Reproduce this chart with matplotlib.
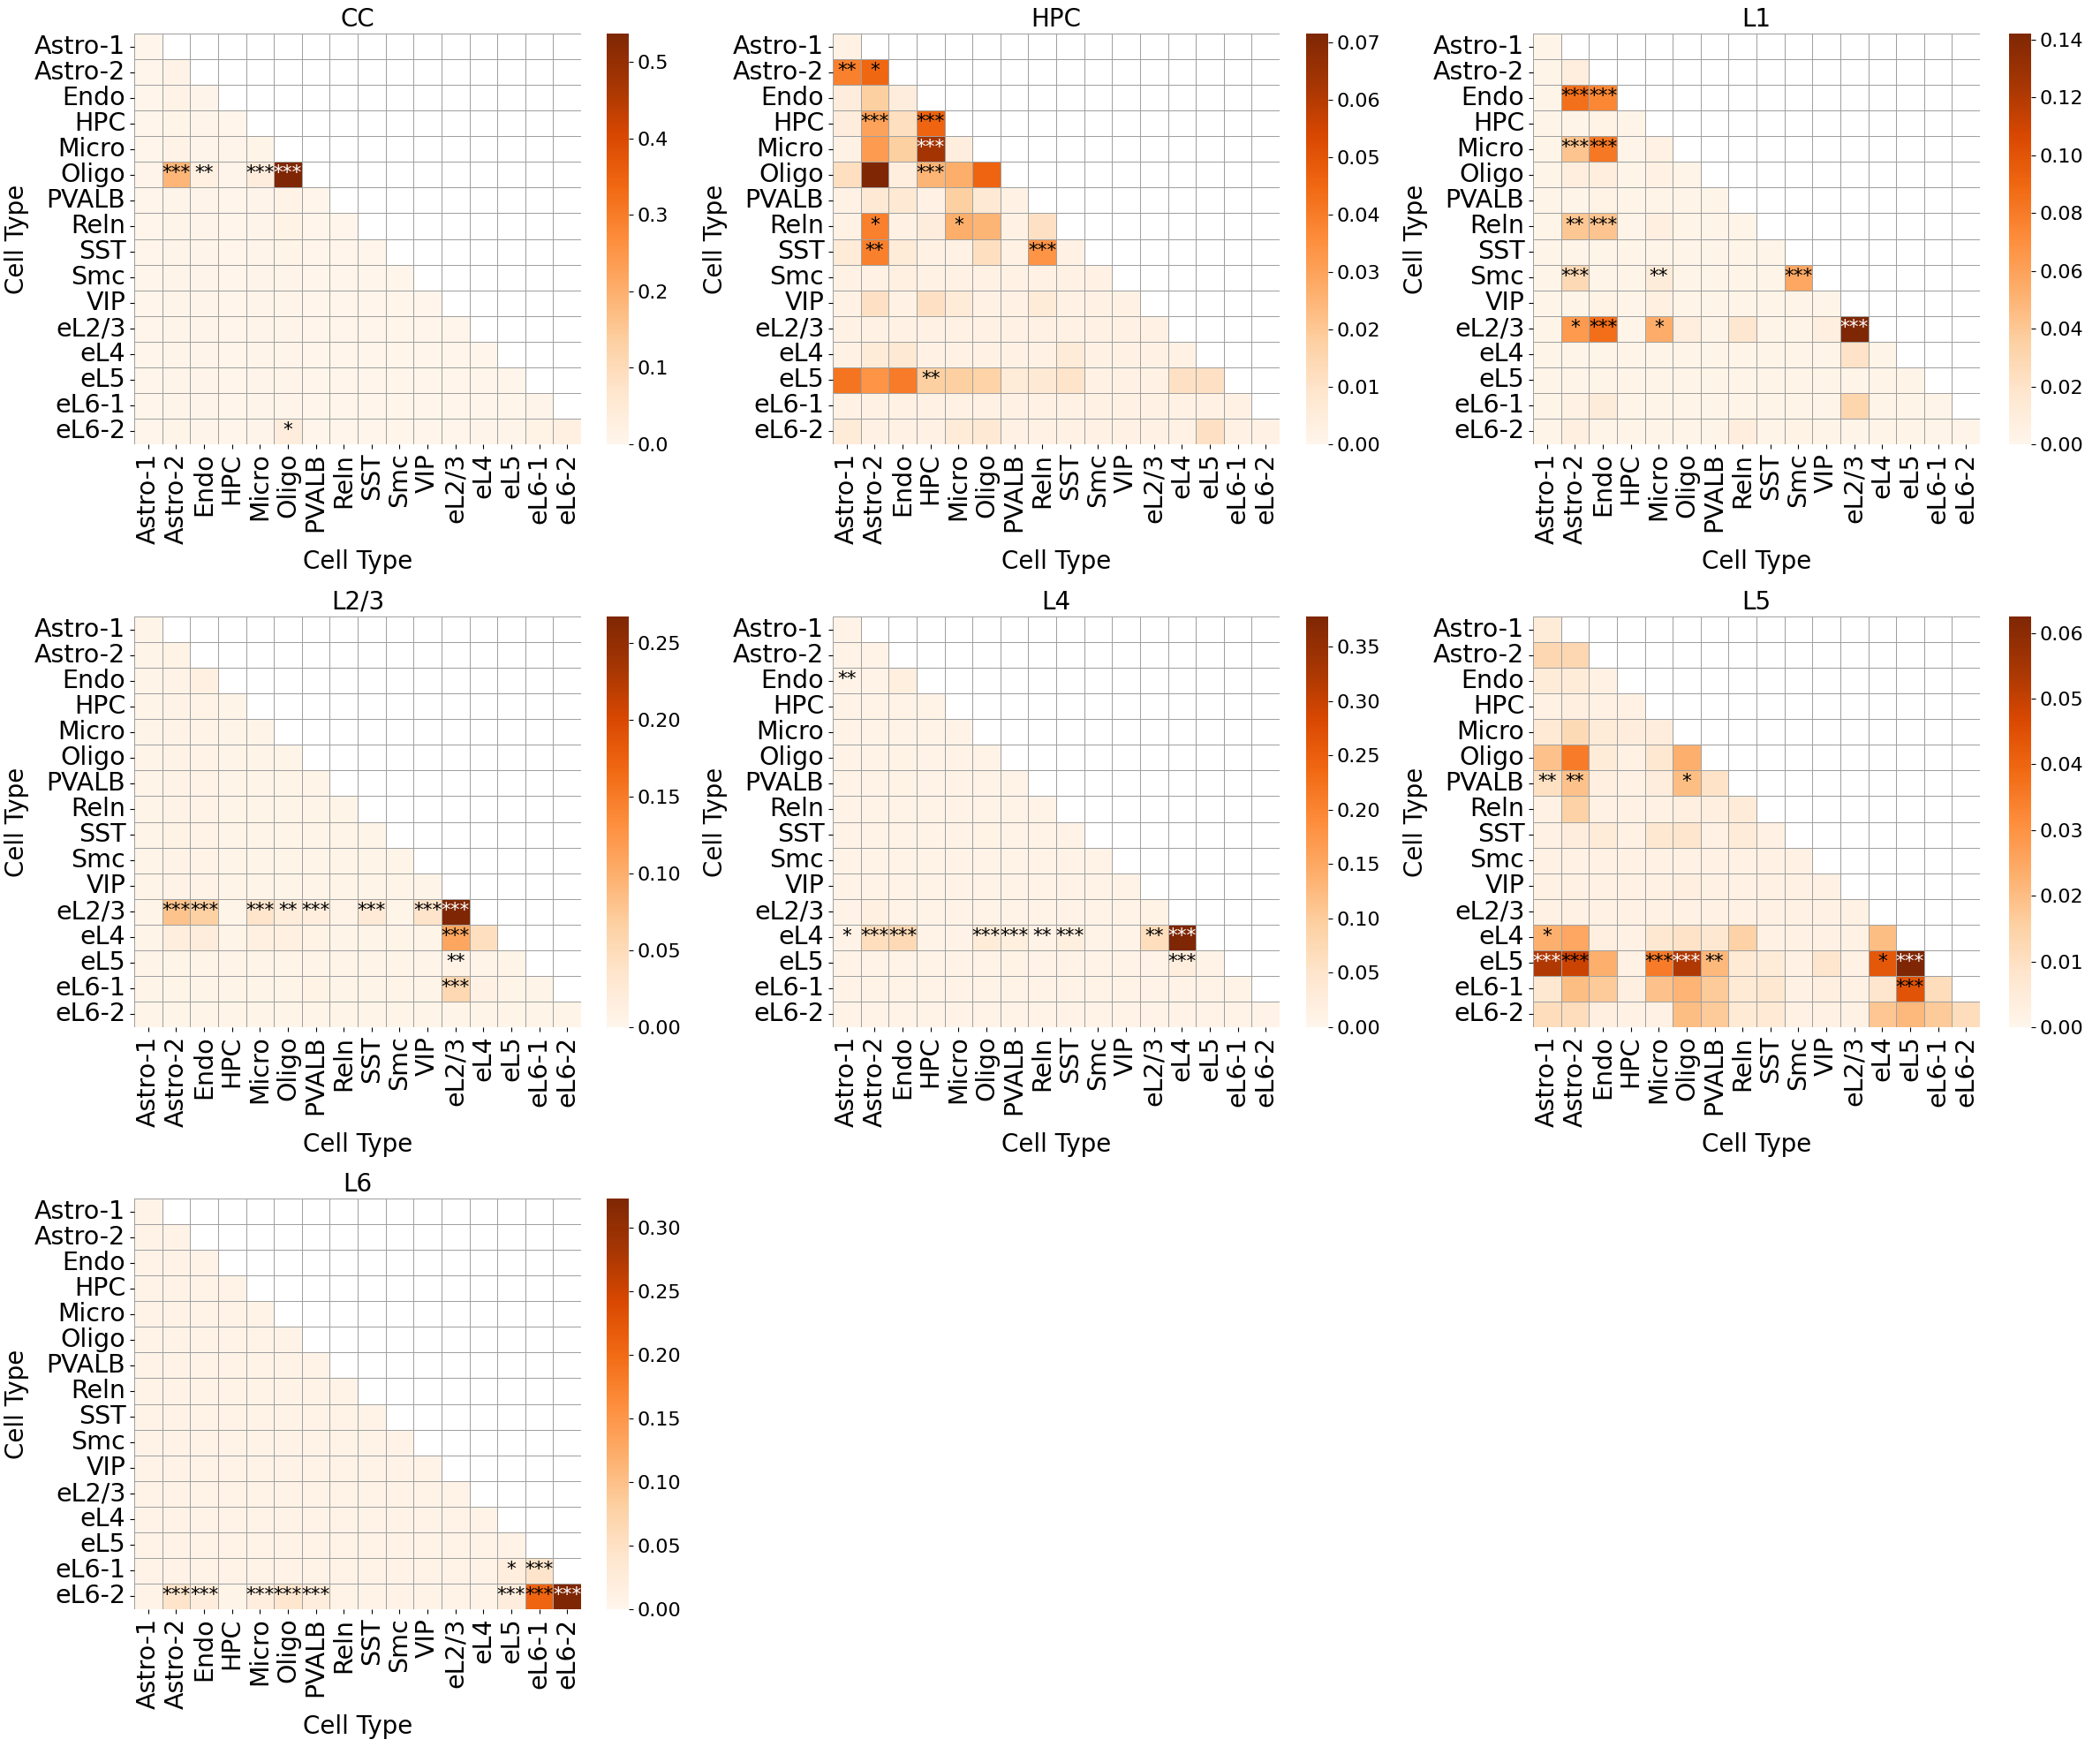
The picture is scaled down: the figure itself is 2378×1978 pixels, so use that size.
import numpy as np
import matplotlib
matplotlib.use('Agg')
import matplotlib.pyplot as plt
import seaborn as sns

cell_types = ['Astro-1', 'Astro-2', 'Endo', 'HPC', 'Micro', 'Oligo', 'PVALB', 'Reln',
              'SST', 'Smc', 'VIP', 'eL2/3', 'eL4', 'eL5', 'eL6-1', 'eL6-2']
regions = ['CC', 'HPC', 'L1', 'L2/3', 'L4', 'L5', 'L6']

# lower triangle of each matrix, row by row
cc_vals = [
    [0.004],
    [0.004, 0.010],
    [0.004, 0.010, 0.006],
    [0.004, 0.008, 0.006, 0.004],
    [0.004, 0.010, 0.006, 0.005, 0.008],
    [0.006, 0.185, 0.025, 0.005, 0.035, 0.537],
    [0.004, 0.006, 0.005, 0.004, 0.005, 0.010, 0.004],
    [0.004, 0.006, 0.005, 0.004, 0.005, 0.012, 0.004, 0.004],
    [0.004, 0.006, 0.005, 0.004, 0.005, 0.008, 0.004, 0.004, 0.004],
    [0.004, 0.005, 0.005, 0.004, 0.005, 0.006, 0.004, 0.004, 0.004, 0.004],
    [0.004, 0.005, 0.005, 0.004, 0.005, 0.006, 0.004, 0.004, 0.004, 0.004, 0.004],
    [0.004, 0.005, 0.005, 0.004, 0.005, 0.006, 0.004, 0.004, 0.004, 0.004, 0.004, 0.004],
    [0.004, 0.005, 0.005, 0.004, 0.005, 0.006, 0.004, 0.004, 0.004, 0.004, 0.004, 0.004, 0.004],
    [0.004, 0.005, 0.005, 0.004, 0.005, 0.006, 0.004, 0.004, 0.004, 0.004, 0.004, 0.004, 0.004, 0.004],
    [0.004, 0.005, 0.005, 0.004, 0.005, 0.006, 0.004, 0.004, 0.004, 0.004, 0.004, 0.004, 0.004, 0.004, 0.006],
    [0.004, 0.008, 0.006, 0.004, 0.006, 0.035, 0.004, 0.004, 0.004, 0.004, 0.004, 0.004, 0.005, 0.005, 0.012, 0.022],
]
cc_stars = {(5, 1): '***', (5, 2): '**', (5, 4): '***', (5, 5): '***', (15, 5): '*'}

hpc_vals = [
    [0.002],
    [0.039, 0.045],
    [0.005, 0.018, 0.005],
    [0.005, 0.030, 0.012, 0.046],
    [0.002, 0.032, 0.018, 0.063, 0.004],
    [0.012, 0.0715, 0.004, 0.025, 0.027, 0.046],
    [0.002, 0.007, 0.007, 0.002, 0.018, 0.007, 0.002],
    [0.002, 0.039, 0.002, 0.005, 0.027, 0.025, 0.002, 0.011],
    [0.006, 0.039, 0.006, 0.002, 0.002, 0.012, 0.002, 0.034, 0.002],
    [0.002, 0.002, 0.003, 0.002, 0.002, 0.002, 0.002, 0.002, 0.002, 0.002],
    [0.002, 0.011, 0.002, 0.011, 0.006, 0.002, 0.002, 0.006, 0.002, 0.002, 0.002],
    [0.002, 0.002, 0.002, 0.002, 0.002, 0.002, 0.002, 0.002, 0.002, 0.002, 0.002, 0.002],
    [0.002, 0.006, 0.007, 0.002, 0.002, 0.002, 0.002, 0.002, 0.006, 0.002, 0.002, 0.002, 0.002],
    [0.042, 0.034, 0.040, 0.018, 0.018, 0.017, 0.006, 0.007, 0.010, 0.002, 0.002, 0.002, 0.011, 0.011],
    [0.002, 0.002, 0.002, 0.002, 0.002, 0.002, 0.002, 0.002, 0.002, 0.002, 0.002, 0.002, 0.002, 0.002, 0.002],
    [0.006, 0.002, 0.002, 0.002, 0.006, 0.007, 0.002, 0.002, 0.002, 0.002, 0.002, 0.002, 0.002, 0.011, 0.002, 0.002],
]
hpc_stars = {(1, 0): '**', (1, 1): '*', (3, 1): '***', (3, 3): '***', (4, 3): '***',
             (5, 3): '***', (7, 1): '*', (7, 4): '*', (8, 1): '**', (8, 7): '***', (13, 3): '**'}

l1_vals = [
    [0.002],
    [0.002, 0.008],
    [0.002, 0.085, 0.074],
    [0.002, 0.002, 0.003, 0.002],
    [0.002, 0.042, 0.081, 0.002, 0.005],
    [0.002, 0.008, 0.008, 0.002, 0.004, 0.002],
    [0.002, 0.002, 0.003, 0.002, 0.002, 0.002, 0.002],
    [0.002, 0.040, 0.042, 0.002, 0.007, 0.002, 0.002, 0.002],
    [0.002, 0.002, 0.002, 0.002, 0.002, 0.002, 0.002, 0.002, 0.002],
    [0.002, 0.028, 0.002, 0.002, 0.011, 0.002, 0.002, 0.002, 0.002, 0.057],
    [0.002, 0.002, 0.003, 0.002, 0.006, 0.002, 0.002, 0.002, 0.002, 0.002, 0.002],
    [0.002, 0.064, 0.086, 0.002, 0.054, 0.008, 0.002, 0.017, 0.002, 0.002, 0.007, 0.142],
    [0.002, 0.002, 0.002, 0.002, 0.002, 0.002, 0.002, 0.002, 0.002, 0.002, 0.002, 0.020, 0.002],
    [0.002, 0.002, 0.002, 0.002, 0.002, 0.002, 0.002, 0.002, 0.002, 0.002, 0.002, 0.002, 0.002, 0.002],
    [0.002, 0.005, 0.011, 0.002, 0.002, 0.002, 0.002, 0.002, 0.002, 0.002, 0.002, 0.031, 0.002, 0.002, 0.002],
    [0.002, 0.007, 0.002, 0.002, 0.002, 0.002, 0.002, 0.008, 0.002, 0.003, 0.002, 0.002, 0.002, 0.002, 0.002, 0.002],
]
l1_stars = {(2, 1): '***', (2, 2): '***', (4, 1): '***', (4, 2): '***', (7, 1): '**',
            (7, 2): '***', (9, 1): '***', (9, 4): '**', (9, 9): '***', (11, 1): '*',
            (11, 2): '***', (11, 4): '*', (11, 11): '***'}

l23_vals = [
    [0.004],
    [0.004, 0.006],
    [0.004, 0.005, 0.012],
    [0.004, 0.005, 0.005, 0.004],
    [0.004, 0.005, 0.005, 0.004, 0.004],
    [0.004, 0.005, 0.005, 0.004, 0.004, 0.004],
    [0.004, 0.005, 0.005, 0.004, 0.004, 0.004, 0.004],
    [0.004, 0.005, 0.005, 0.004, 0.004, 0.004, 0.004, 0.004],
    [0.004, 0.006, 0.005, 0.004, 0.004, 0.004, 0.004, 0.004, 0.004],
    [0.004, 0.005, 0.005, 0.004, 0.004, 0.004, 0.004, 0.004, 0.004, 0.004],
    [0.004, 0.005, 0.005, 0.004, 0.004, 0.004, 0.004, 0.004, 0.004, 0.004, 0.004],
    [0.004, 0.080, 0.065, 0.004, 0.035, 0.019, 0.015, 0.005, 0.025, 0.004, 0.037, 0.267],
    [0.004, 0.015, 0.018, 0.004, 0.012, 0.012, 0.006, 0.004, 0.004, 0.004, 0.004, 0.108, 0.043],
    [0.004, 0.004, 0.004, 0.004, 0.004, 0.004, 0.004, 0.004, 0.004, 0.004, 0.004, 0.006, 0.004, 0.004],
    [0.004, 0.004, 0.004, 0.004, 0.004, 0.004, 0.006, 0.004, 0.004, 0.004, 0.004, 0.055, 0.008, 0.004, 0.004],
    [0.004, 0.004, 0.004, 0.004, 0.004, 0.004, 0.004, 0.004, 0.004, 0.004, 0.004, 0.004, 0.004, 0.004, 0.004, 0.004],
]
l23_stars = {(11, 1): '***', (11, 2): '***', (11, 4): '***', (11, 5): '**', (11, 6): '***',
             (11, 8): '***', (11, 10): '***', (11, 11): '***', (12, 11): '***', (13, 11): '**',
             (14, 11): '***'}

l4_vals = [
    [0.006],
    [0.006, 0.006],
    [0.006, 0.006, 0.020],
    [0.006, 0.006, 0.006, 0.006],
    [0.006, 0.006, 0.006, 0.006, 0.006],
    [0.006, 0.006, 0.008, 0.006, 0.006, 0.006],
    [0.006, 0.006, 0.008, 0.006, 0.006, 0.006, 0.006],
    [0.006, 0.006, 0.006, 0.006, 0.006, 0.006, 0.006, 0.006],
    [0.006, 0.006, 0.006, 0.006, 0.006, 0.008, 0.006, 0.006, 0.006],
    [0.006, 0.006, 0.006, 0.006, 0.006, 0.006, 0.006, 0.006, 0.006, 0.006],
    [0.006, 0.006, 0.006, 0.006, 0.006, 0.006, 0.006, 0.006, 0.006, 0.006, 0.006],
    [0.006, 0.015, 0.006, 0.006, 0.006, 0.006, 0.006, 0.006, 0.006, 0.006, 0.006, 0.008],
    [0.006, 0.065, 0.075, 0.006, 0.006, 0.030, 0.020, 0.010, 0.020, 0.006, 0.006, 0.065, 0.378],
    [0.006, 0.006, 0.006, 0.006, 0.006, 0.006, 0.008, 0.006, 0.006, 0.006, 0.006, 0.006, 0.022, 0.006],
    [0.006, 0.006, 0.006, 0.006, 0.006, 0.006, 0.006, 0.006, 0.006, 0.006, 0.006, 0.006, 0.010, 0.006, 0.006],
    [0.006, 0.006, 0.006, 0.006, 0.006, 0.006, 0.006, 0.006, 0.006, 0.006, 0.006, 0.006, 0.006, 0.006, 0.006, 0.006],
]
l4_stars = {(2, 0): '**', (12, 0): '*', (12, 1): '***', (12, 2): '***', (12, 5): '***',
            (12, 6): '***', (12, 7): '**', (12, 8): '***', (12, 11): '**', (12, 12): '***',
            (13, 12): '***'}

l5_vals = [
    [0.005],
    [0.013, 0.013],
    [0.005, 0.005, 0.002],
    [0.002, 0.003, 0.002, 0.002],
    [0.006, 0.012, 0.005, 0.004, 0.004],
    [0.019, 0.035, 0.005, 0.002, 0.007, 0.023],
    [0.010, 0.019, 0.003, 0.002, 0.004, 0.020, 0.009],
    [0.002, 0.015, 0.002, 0.002, 0.002, 0.003, 0.003, 0.005],
    [0.002, 0.004, 0.005, 0.002, 0.007, 0.008, 0.002, 0.005, 0.002],
    [0.002, 0.002, 0.002, 0.002, 0.002, 0.002, 0.002, 0.002, 0.002, 0.002],
    [0.002, 0.002, 0.002, 0.002, 0.002, 0.003, 0.002, 0.002, 0.002, 0.002, 0.002],
    [0.002, 0.002, 0.002, 0.002, 0.002, 0.002, 0.002, 0.002, 0.002, 0.002, 0.002, 0.002],
    [0.023, 0.025, 0.003, 0.002, 0.007, 0.009, 0.007, 0.015, 0.002, 0.002, 0.002, 0.002, 0.020],
    [0.053, 0.049, 0.023, 0.002, 0.035, 0.053, 0.021, 0.006, 0.005, 0.002, 0.008, 0.002, 0.043, 0.0625],
    [0.007, 0.020, 0.017, 0.003, 0.019, 0.022, 0.017, 0.006, 0.007, 0.002, 0.003, 0.002, 0.008, 0.044, 0.011],
    [0.011, 0.011, 0.003, 0.002, 0.002, 0.020, 0.017, 0.006, 0.006, 0.002, 0.002, 0.002, 0.018, 0.021, 0.017, 0.011],
]
l5_stars = {(6, 0): '**', (6, 1): '**', (6, 5): '*', (12, 0): '*', (13, 0): '***',
            (13, 1): '***', (13, 4): '***', (13, 5): '***', (13, 6): '**', (13, 12): '*',
            (13, 13): '***', (14, 13): '***'}

l6_vals = [
    [0.006],
    [0.006, 0.006],
    [0.006, 0.006, 0.006],
    [0.006, 0.006, 0.006, 0.006],
    [0.006, 0.006, 0.006, 0.006, 0.006],
    [0.006, 0.006, 0.006, 0.006, 0.006, 0.006],
    [0.006, 0.006, 0.006, 0.006, 0.006, 0.006, 0.006],
    [0.006, 0.006, 0.006, 0.006, 0.006, 0.006, 0.006, 0.006],
    [0.006, 0.006, 0.006, 0.006, 0.006, 0.006, 0.006, 0.006, 0.006],
    [0.006, 0.006, 0.006, 0.006, 0.006, 0.006, 0.006, 0.006, 0.006, 0.006],
    [0.006, 0.006, 0.006, 0.006, 0.006, 0.006, 0.006, 0.006, 0.006, 0.006, 0.006],
    [0.006, 0.006, 0.006, 0.006, 0.006, 0.006, 0.006, 0.006, 0.006, 0.006, 0.006, 0.006],
    [0.006, 0.006, 0.006, 0.006, 0.006, 0.006, 0.006, 0.006, 0.006, 0.006, 0.006, 0.006, 0.006],
    [0.006, 0.006, 0.006, 0.006, 0.006, 0.006, 0.006, 0.006, 0.006, 0.006, 0.006, 0.006, 0.006, 0.006],
    [0.006, 0.006, 0.008, 0.006, 0.008, 0.008, 0.006, 0.006, 0.006, 0.006, 0.006, 0.006, 0.006, 0.020, 0.045],
    [0.006, 0.045, 0.022, 0.004, 0.018, 0.040, 0.022, 0.006, 0.006, 0.006, 0.006, 0.006, 0.006, 0.022, 0.207, 0.323],
]
l6_stars = {(14, 13): '*', (14, 14): '***', (15, 1): '***', (15, 2): '***', (15, 4): '***',
            (15, 5): '***', (15, 6): '***', (15, 13): '***', (15, 14): '***', (15, 15): '***'}

all_vals = [cc_vals, hpc_vals, l1_vals, l23_vals, l4_vals, l5_vals, l6_vals]
all_stars = [cc_stars, hpc_stars, l1_stars, l23_stars, l4_stars, l5_stars, l6_stars]

W, H = 2378, 1978
col_left = [152, 943, 1736]
cbar_left = [687, 1479, 2275]
row_top = [38, 698, 1357]
hm_w, hm_h, cb_w = 506, 465, 25

fig = plt.figure(figsize=(W / 100, H / 100), dpi=100)
n = len(cell_types)

for k, region in enumerate(regions):
    r, c = divmod(k, 3)
    bottom = 1 - (row_top[r] + hm_h) / H
    ax = fig.add_axes([col_left[c] / W, bottom, hm_w / W, hm_h / H])
    cax = fig.add_axes([cbar_left[c] / W, bottom, cb_w / W, hm_h / H])

    mat = np.full((n, n), np.nan)
    for i, row in enumerate(all_vals[k]):
        mat[i, :len(row)] = row
    mask = np.triu(np.ones((n, n), dtype=bool), k=1)

    sns.heatmap(mat, mask=mask, cmap='Oranges', vmin=0, linewidths=0.6, linecolor='#a0a0a0',
                xticklabels=cell_types, yticklabels=cell_types, ax=ax, cbar_ax=cax)
    vmax = np.nanmax(mat)
    for (i, j), s in all_stars[k].items():
        color = 'white' if mat[i, j] > 0.8 * vmax else 'black'
        ax.text(j + 0.5, i + 0.45, s, ha='center', va='center', fontsize=15.5, color=color)

    ax.set_title(region, fontsize=20)
    ax.set_xlabel('Cell Type', fontsize=20)
    ax.set_ylabel('Cell Type', fontsize=20)
    ax.tick_params(labelsize=20.5)
    plt.setp(ax.get_xticklabels(), rotation=90)
    plt.setp(ax.get_yticklabels(), rotation=0)
    cax.tick_params(labelsize=16)

fig.savefig('out.png', dpi=100)
